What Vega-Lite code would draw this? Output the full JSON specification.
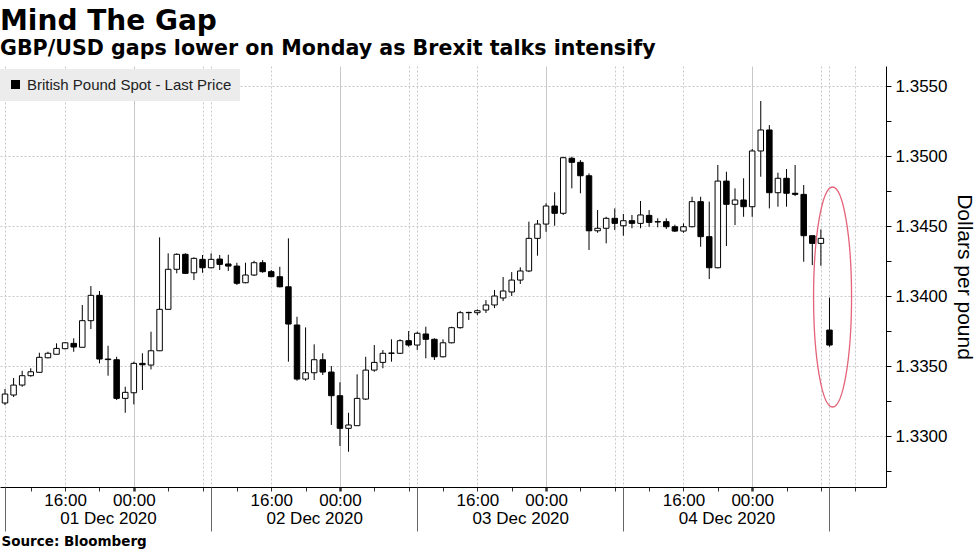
{
  "$schema": "https://vega.github.io/schema/vega-lite/v6.json",
  "width": 886,
  "height": 421,
  "autosize": {"type": "none"},
  "padding": {"left": 0, "top": 66, "right": 91, "bottom": 62},
  "background": "white",
  "config": {"view": {"stroke": null}},
  "title": {
    "text": "Mind The Gap",
    "subtitle": "GBP/USD gaps lower on Monday as Brexit talks intensify",
    "anchor": "start",
    "frame": "group",
    "font": "DejaVu Sans",
    "fontSize": 28,
    "fontWeight": "bold",
    "color": "black",
    "subtitleFont": "DejaVu Sans",
    "subtitleFontSize": 20.6,
    "subtitleFontWeight": "bold",
    "subtitleColor": "black",
    "subtitlePadding": 3,
    "offset": 6
  },
  "datasets": {
    "candles": [
      {"k":0,"o":1.33236,"h":1.33336,"l":1.33221,"c":1.33300},
      {"k":1,"o":1.33293,"h":1.33414,"l":1.33279,"c":1.33364},
      {"k":2,"o":1.33364,"h":1.33466,"l":1.33352,"c":1.33431},
      {"k":3,"o":1.33431,"h":1.33484,"l":1.33424,"c":1.33459},
      {"k":4,"o":1.33455,"h":1.33595,"l":1.33455,"c":1.33562},
      {"k":5,"o":1.33559,"h":1.33602,"l":1.33555,"c":1.33591},
      {"k":6,"o":1.33584,"h":1.33662,"l":1.33584,"c":1.33626},
      {"k":7,"o":1.33624,"h":1.33671,"l":1.33619,"c":1.33666},
      {"k":8,"o":1.33662,"h":1.33698,"l":1.33602,"c":1.33636},
      {"k":9,"o":1.33634,"h":1.33936,"l":1.33634,"c":1.33824},
      {"k":10,"o":1.33824,"h":1.34071,"l":1.33764,"c":1.34005},
      {"k":11,"o":1.34005,"h":1.34036,"l":1.33519,"c":1.33550},
      {"k":12,"o":1.33550,"h":1.33645,"l":1.33431,"c":1.33546},
      {"k":13,"o":1.33545,"h":1.33566,"l":1.33257,"c":1.33269},
      {"k":14,"o":1.33269,"h":1.33352,"l":1.33166,"c":1.33312},
      {"k":15,"o":1.33309,"h":1.33531,"l":1.33226,"c":1.33519},
      {"k":16,"o":1.33519,"h":1.33591,"l":1.33329,"c":1.33509},
      {"k":17,"o":1.33507,"h":1.33745,"l":1.33476,"c":1.33609},
      {"k":18,"o":1.33609,"h":1.34419,"l":1.33607,"c":1.33905},
      {"k":19,"o":1.33905,"h":1.34305,"l":1.33905,"c":1.34191},
      {"k":20,"o":1.34191,"h":1.34305,"l":1.34162,"c":1.34298},
      {"k":21,"o":1.34298,"h":1.34305,"l":1.34157,"c":1.34162},
      {"k":22,"o":1.34166,"h":1.34276,"l":1.34114,"c":1.34269},
      {"k":23,"o":1.34262,"h":1.34293,"l":1.34166,"c":1.34202},
      {"k":24,"o":1.34202,"h":1.34305,"l":1.34198,"c":1.34262},
      {"k":25,"o":1.34264,"h":1.34293,"l":1.34186,"c":1.34226},
      {"k":26,"o":1.34229,"h":1.34295,"l":1.34179,"c":1.34214},
      {"k":27,"o":1.34214,"h":1.34238,"l":1.34079,"c":1.34091},
      {"k":28,"o":1.34095,"h":1.34238,"l":1.34091,"c":1.34150},
      {"k":29,"o":1.34150,"h":1.34252,"l":1.34143,"c":1.34238},
      {"k":30,"o":1.34238,"h":1.34257,"l":1.34166,"c":1.34174},
      {"k":31,"o":1.34174,"h":1.34186,"l":1.34134,"c":1.34138},
      {"k":32,"o":1.34138,"h":1.34209,"l":1.34062,"c":1.34066},
      {"k":33,"o":1.34066,"h":1.34412,"l":1.33531,"c":1.33800},
      {"k":34,"o":1.33793,"h":1.33852,"l":1.33395,"c":1.33407},
      {"k":35,"o":1.33407,"h":1.33776,"l":1.33395,"c":1.33452},
      {"k":36,"o":1.33452,"h":1.33655,"l":1.33400,"c":1.33545},
      {"k":37,"o":1.33545,"h":1.33591,"l":1.33436,"c":1.33457},
      {"k":38,"o":1.33457,"h":1.33500,"l":1.33079,"c":1.33288},
      {"k":39,"o":1.33288,"h":1.33384,"l":1.32929,"c":1.33055},
      {"k":40,"o":1.33055,"h":1.33166,"l":1.32888,"c":1.33079},
      {"k":41,"o":1.33074,"h":1.33441,"l":1.33074,"c":1.33269},
      {"k":42,"o":1.33264,"h":1.33566,"l":1.33257,"c":1.33471},
      {"k":43,"o":1.33471,"h":1.33650,"l":1.33459,"c":1.33526},
      {"k":44,"o":1.33526,"h":1.33614,"l":1.33484,"c":1.33591},
      {"k":45,"o":1.33593,"h":1.33691,"l":1.33531,"c":1.33591},
      {"k":46,"o":1.33591,"h":1.33691,"l":1.33586,"c":1.33681},
      {"k":47,"o":1.33681,"h":1.33750,"l":1.33638,"c":1.33650},
      {"k":48,"o":1.33650,"h":1.33745,"l":1.33614,"c":1.33734},
      {"k":49,"o":1.33729,"h":1.33781,"l":1.33555,"c":1.33691},
      {"k":50,"o":1.33691,"h":1.33698,"l":1.33543,"c":1.33566},
      {"k":51,"o":1.33566,"h":1.33691,"l":1.33562,"c":1.33666},
      {"k":52,"o":1.33666,"h":1.33781,"l":1.33662,"c":1.33774},
      {"k":53,"o":1.33774,"h":1.33893,"l":1.33767,"c":1.33881},
      {"k":54,"o":1.33883,"h":1.33888,"l":1.33829,"c":1.33881},
      {"k":55,"o":1.33881,"h":1.33905,"l":1.33864,"c":1.33895},
      {"k":56,"o":1.33900,"h":1.33971,"l":1.33879,"c":1.33936},
      {"k":57,"o":1.33936,"h":1.34043,"l":1.33914,"c":1.34000},
      {"k":58,"o":1.33986,"h":1.34136,"l":1.33964,"c":1.34036},
      {"k":59,"o":1.34029,"h":1.34171,"l":1.34000,"c":1.34114},
      {"k":60,"o":1.34114,"h":1.34205,"l":1.34086,"c":1.34179},
      {"k":61,"o":1.34179,"h":1.34531,"l":1.34171,"c":1.34412},
      {"k":62,"o":1.34412,"h":1.34543,"l":1.34288,"c":1.34514},
      {"k":63,"o":1.34514,"h":1.34662,"l":1.34459,"c":1.34643},
      {"k":64,"o":1.34643,"h":1.34741,"l":1.34502,"c":1.34591},
      {"k":65,"o":1.34591,"h":1.34995,"l":1.34579,"c":1.34988},
      {"k":66,"o":1.34984,"h":1.34995,"l":1.34769,"c":1.34955},
      {"k":67,"o":1.34955,"h":1.34971,"l":1.34734,"c":1.34859},
      {"k":68,"o":1.34859,"h":1.34876,"l":1.34329,"c":1.34466},
      {"k":69,"o":1.34466,"h":1.34614,"l":1.34452,"c":1.34484},
      {"k":70,"o":1.34484,"h":1.34566,"l":1.34376,"c":1.34555},
      {"k":71,"o":1.34555,"h":1.34626,"l":1.34471,"c":1.34519},
      {"k":72,"o":1.34502,"h":1.34586,"l":1.34431,"c":1.34538},
      {"k":73,"o":1.34538,"h":1.34579,"l":1.34484,"c":1.34519},
      {"k":74,"o":1.34519,"h":1.34679,"l":1.34484,"c":1.34579},
      {"k":75,"o":1.34576,"h":1.34614,"l":1.34495,"c":1.34526},
      {"k":76,"o":1.34531,"h":1.34555,"l":1.34491,"c":1.34529},
      {"k":77,"o":1.34531,"h":1.34555,"l":1.34479,"c":1.34495},
      {"k":78,"o":1.34495,"h":1.34509,"l":1.34457,"c":1.34464},
      {"k":79,"o":1.34464,"h":1.34519,"l":1.34452,"c":1.34495},
      {"k":80,"o":1.34495,"h":1.34709,"l":1.34491,"c":1.34674},
      {"k":81,"o":1.34674,"h":1.34709,"l":1.34352,"c":1.34424},
      {"k":82,"o":1.34424,"h":1.34674,"l":1.34121,"c":1.34202},
      {"k":83,"o":1.34202,"h":1.34936,"l":1.34198,"c":1.34821},
      {"k":84,"o":1.34821,"h":1.34888,"l":1.34357,"c":1.34655},
      {"k":85,"o":1.34655,"h":1.34769,"l":1.34507,"c":1.34686},
      {"k":86,"o":1.34686,"h":1.34841,"l":1.34566,"c":1.34638},
      {"k":87,"o":1.34638,"h":1.35050,"l":1.34566,"c":1.35036},
      {"k":88,"o":1.35036,"h":1.35393,"l":1.34852,"c":1.35186},
      {"k":89,"o":1.35186,"h":1.35221,"l":1.34626,"c":1.34738},
      {"k":90,"o":1.34738,"h":1.34881,"l":1.34638,"c":1.34841},
      {"k":91,"o":1.34841,"h":1.34907,"l":1.34638,"c":1.34734},
      {"k":92,"o":1.34734,"h":1.34936,"l":1.34714,"c":1.34726},
      {"k":93,"o":1.34726,"h":1.34793,"l":1.34245,"c":1.34431},
      {"k":94,"o":1.34431,"h":1.34431,"l":1.34221,"c":1.34376},
      {"k":95,"o":1.34376,"h":1.34476,"l":1.34216,"c":1.34412},
      {"k":96,"o":1.33757,"h":1.33989,"l":1.33638,"c":1.33650}
    ],
    "highlight": [{"k": 96.36, "p": 1.33993}]
  },
  "resolve": {"scale": {"x": "shared", "y": "shared"}, "axis": {"x": "independent", "y": "independent"}},
  "layer": [
    {
      "data": {"name": "candles"},
      "mark": {"type": "rule", "color": "black", "strokeWidth": 1, "clip": true},
      "encoding": {
        "x": {
          "field": "k", "type": "quantitative",
          "scale": {"domain": [0, 102], "nice": false, "zero": false},
          "axis": {
            "orient": "bottom",
            "values": [0,3,7,11,15,19,23,24,27,31,35,39,43,47,48,51,55,59,63,67,71,72,75,79,83,87,91,95,96,99],
            "labelExpr": "datum.value % 24 == 7 ? '16:00' : (datum.value % 24 == 15 ? '00:00' : '')",
            "labelOverlap": false, "labelFlush": false, "labelBound": false,
            "labelFont": "Liberation Sans", "labelFontSize": 17, "labelColor": "black", "labelPadding": 1,
            "domain": true, "domainColor": "black", "domainWidth": 1,
            "ticks": true, "tickSize": 4, "tickColor": "#333",
            "tickWidth": {"condition": {"test": "datum.value % 24 == 15", "value": 2.5}, "value": 1},
            "grid": true, "gridColor": "#c8c8c8",
            "gridDash": {"condition": {"test": "datum.value % 24 == 15", "value": []}, "value": [2, 2]},
            "gridOpacity": {"condition": {"test": "(datum.value % 24 == 3 || datum.value % 24 == 11 || datum.value % 24 == 19) && datum.value < 96", "value": 0}, "value": 1},
            "title": null
          }
        },
        "y": {
          "field": "l", "type": "quantitative",
          "scale": {"domain": [1.32636, 1.35643], "nice": false, "zero": false},
          "title": "Dollars per pound",
          "axis": {
            "orient": "right",
            "values": [1.3275,1.33,1.3325,1.335,1.3375,1.34,1.3425,1.345,1.3475,1.35,1.3525,1.355],
            "labelExpr": "abs(round(datum.value*10000)) % 50 == 0 ? format(datum.value, '.4f') : ''",
            "labelOverlap": false, "labelFlush": false,
            "labelFont": "Liberation Sans", "labelFontSize": 17, "labelColor": "black", "labelPadding": 4,
            "domain": true, "domainColor": "black", "tickColor": "black", "tickSize": 5,
            "grid": true, "gridColor": "#c8c8c8", "gridDash": [2, 2],
            "gridOpacity": {"condition": {"test": "abs(round(datum.value*10000)) % 50 != 0", "value": 0}, "value": 1},
            "titleFont": "Liberation Sans", "titleFontSize": 21, "titleFontWeight": "normal", "titleColor": "black", "titlePadding": 7
          }
        },
        "y2": {"field": "h"}
      }
    },
    {
      "data": {"name": "candles"},
      "transform": [{"filter": "datum.c >= datum.o"}],
      "mark": {"type": "bar", "size": 5.5, "fill": "white", "stroke": "black", "strokeWidth": 1, "clip": true},
      "encoding": {
        "x": {
          "field": "k", "type": "quantitative",
          "axis": {
            "orient": "bottom",
            "values": [12, 36, 60, 84],
            "labelExpr": "['01 Dec 2020','02 Dec 2020','03 Dec 2020','04 Dec 2020'][floor(datum.value/24)]",
            "labelOverlap": false, "labelFlush": false, "labelBound": false,
            "labelFont": "Liberation Sans", "labelFontSize": 17, "labelColor": "black", "labelPadding": 23,
            "domain": false, "ticks": false, "grid": false, "title": null
          }
        },
        "y": {"field": "o", "type": "quantitative", "axis": null},
        "y2": {"field": "c"}
      }
    },
    {
      "data": {"name": "candles"},
      "transform": [{"filter": "datum.c < datum.o"}],
      "mark": {"type": "bar", "size": 5.5, "stroke": "black", "strokeWidth": 1, "clip": true},
      "encoding": {
        "x": {
          "field": "k", "type": "quantitative",
          "axis": {
            "orient": "bottom",
            "values": [0, 24, 48, 72, 96],
            "labels": false, "domain": false, "grid": false,
            "ticks": true, "tickSize": 44, "tickColor": "#666", "tickWidth": 1,
            "title": "Source: Bloomberg",
            "titleAnchor": "start", "titleAlign": "left", "titleBaseline": "top",
            "titleX": 1, "titleY": 47,
            "titleFont": "DejaVu Sans", "titleFontSize": 13.5, "titleFontWeight": "bold", "titleColor": "black"
          }
        },
        "y": {"field": "o", "type": "quantitative", "axis": null},
        "y2": {"field": "c"},
        "color": {
          "datum": "British Pound Spot - Last Price",
          "type": "nominal",
          "scale": {"range": ["#000000"]},
          "legend": {
            "title": null, "orient": "none", "legendX": 0, "legendY": 3,
            "fillColor": "#ececec", "padding": 8,
            "symbolType": "square", "symbolSize": 81, "symbolStrokeWidth": 0, "symbolFillColor": "black",
            "labelFont": "Liberation Sans", "labelFontSize": 15, "labelColor": "#222", "labelOffset": 4, "labelLimit": 400
          }
        }
      }
    },
    {
      "data": {"name": "highlight"},
      "mark": {
        "type": "point",
        "shape": "M0,-1C0.0954,-1,0.1727,-0.5523,0.1727,0C0.1727,0.5523,0.0954,1,0,1C-0.0954,1,-0.1727,0.5523,-0.1727,0C-0.1727,-0.5523,-0.0954,-1,0,-1Z",
        "size": 48400, "filled": false, "stroke": "#e4637a", "strokeWidth": 1.3, "opacity": 1
      },
      "encoding": {
        "x": {"field": "k", "type": "quantitative", "axis": null},
        "y": {"field": "p", "type": "quantitative", "axis": null}
      }
    }
  ]
}
